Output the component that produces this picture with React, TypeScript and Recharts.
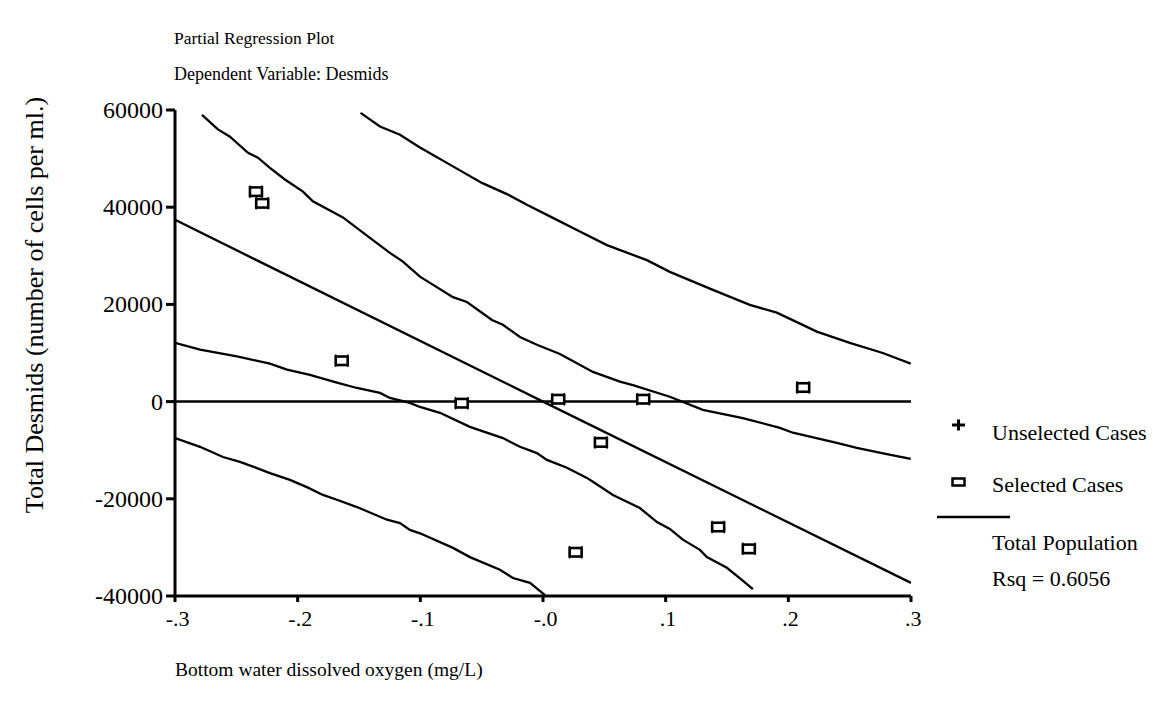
import React from 'react';
import { ComposedChart, Line, Scatter, XAxis, YAxis, ReferenceLine } from 'recharts';

const FONT = "'Liberation Serif', 'Times New Roman', serif";

const xTicks = [-0.3, -0.2, -0.1, 0, 0.1, 0.2, 0.3];
const xTickLabels = ['-.3', '-.2', '-.1', '-.0', '.1', '.2', '.3'];
const yTicks = [-40000, -20000, 0, 20000, 40000, 60000];
const yTickLabels = ['-40000', '-20000', '0', '20000', '40000', '60000'];

// Selected cases (scatter points)
const selectedX = [-0.234, -0.2289, -0.1641, -0.0663, 0.0124, 0.0817, 0.0472, 0.0266, 0.2121, 0.1428, 0.1678];
const selectedY = [43200, 40800, 8400, -330, 490, 490, -8400, -31000, 2900, -25800, -30300];

// Fitted regression line
const regressionLine: [number, number][] = [[-0.3, 37400], [0, 0], [0.3, -37300]];

// Outer upper band
const outerUpper: [number, number][] = [
  [-0.1487, 59400], [-0.1329, 56600], [-0.1166, 54900], [-0.1003, 52300], [-0.0734, 48400],
  [-0.0498, 45000], [-0.0294, 42700], [-0.0131, 40500], [0.0081, 37800], [0.0276, 35300],
  [0.0521, 32200], [0.0847, 29100], [0.1034, 26700], [0.1385, 23000], [0.1686, 19900],
  [0.1906, 18300], [0.2232, 14400], [0.2501, 12100], [0.277, 10000], [0.2998, 7800],
];

// Inner upper band
const innerUpper: [number, number][] = [
  [-0.278, 59000], [-0.265, 56000], [-0.2552, 54500], [-0.2405, 51200], [-0.2324, 50200],
  [-0.2226, 48100], [-0.2104, 45700], [-0.1957, 43200], [-0.1876, 41200], [-0.1631, 37900],
  [-0.1411, 33700], [-0.1248, 30600], [-0.1142, 28800], [-0.1003, 25700], [-0.0734, 21500],
  [-0.062, 20500], [-0.0416, 16800], [-0.0327, 15800], [-0.0188, 13300], [-0.005, 11700],
  [0.0138, 9800], [0.0407, 6100], [0.0627, 4100], [0.0733, 3400], [0.1034, 1000],
  [0.1303, -1700], [0.1629, -3400], [0.1931, -5400], [0.2037, -6400], [0.2395, -8500],
  [0.2558, -9500], [0.2803, -10800], [0.2998, -11800],
];

// Inner lower band
const innerLower: [number, number][] = [
  [-0.3, 12100], [-0.2796, 10700], [-0.2495, 9300], [-0.2226, 7800], [-0.2087, 6600],
  [-0.19, 5500], [-0.168, 3900], [-0.1517, 2800], [-0.1329, 1800], [-0.1248, 760],
  [-0.1085, -270], [-0.1003, -1100], [-0.084, -2300], [-0.0596, -5200], [-0.0327, -7500],
  [-0.0188, -9300], [-0.005, -10600], [0.0032, -12000], [0.0195, -13600], [0.0358, -15700],
  [0.0407, -16500], [0.057, -19200], [0.0684, -20600], [0.079, -21900], [0.0929, -24800],
  [0.1034, -26200], [0.114, -28400], [0.1279, -30500], [0.1336, -32000], [0.1499, -34200],
  [0.1621, -36700], [0.1711, -38600],
];

// Outer lower band
const outerLower: [number, number][] = [
  [-0.3, -7500], [-0.2796, -9300], [-0.2609, -11400], [-0.247, -12400], [-0.2226, -14700],
  [-0.2063, -16100], [-0.1925, -17600], [-0.1794, -19200], [-0.168, -20200], [-0.1517, -21700],
  [-0.1272, -24300], [-0.1166, -25000], [-0.1085, -26400], [-0.1003, -27100], [-0.0734, -30100],
  [-0.0596, -32000], [-0.0351, -34600], [-0.0245, -36300], [-0.0106, -37300], [0.0016, -39800],
];

const toRows = (pts: [number, number][]) => pts.map(([x, y]) => ({ x, y }));
const scatterRows = selectedX.map((x, i) => ({ x, y: selectedY[i] }));

const SquareMarker = (props: any) => {
  const { cx, cy } = props;
  if (cx == null || cy == null) return null;
  const w = 12;
  const h = 8.5;
  return (
    <g>
      <rect x={cx - w / 2} y={cy - h / 2} width={w} height={h} fill="#fff" stroke="#000" strokeWidth={2.6} />
      <line x1={cx - w / 2} y1={cy - h / 2 - 2} x2={cx - w / 2} y2={cy + h / 2 + 2} stroke="#000" strokeWidth={1.4} />
      <line x1={cx + w / 2} y1={cy - h / 2 - 2} x2={cx + w / 2} y2={cy + h / 2 + 2} stroke="#000" strokeWidth={1.4} />
    </g>
  );
};

const YTick = (props: any) => {
  const { x, y, payload } = props;
  const i = yTicks.indexOf(payload.value);
  const label = i >= 0 ? yTickLabels[i] : String(payload.value);
  return (
    <text x={x - 3} y={y + 8} textAnchor="end" fontFamily={FONT} fontSize={24} fill="#000">
      {label}
    </text>
  );
};

const XTick = (props: any) => {
  const { x, y, payload } = props;
  const i = xTicks.findIndex((t) => Math.abs(t - payload.value) < 1e-9);
  const label = i >= 0 ? xTickLabels[i] : String(payload.value);
  const neg = label.startsWith('-');
  return (
    <text x={x - (neg ? 9.3 : 6)} y={y + 24} textAnchor="start" fontFamily={FONT} fontSize={22} fill="#000">
      {label}
    </text>
  );
};

export default function App() {
  const lineProps = {
    dataKey: 'y',
    stroke: '#000',
    strokeWidth: 2.3,
    dot: false,
    activeDot: false,
    isAnimationActive: false,
    type: 'linear' as const,
  };
  return (
    <div style={{ position: 'absolute', left: 0, top: 0, width: 1156, height: 704, background: '#fff' }}>
      <ComposedChart
        width={1156}
        height={704}
        margin={{ top: 110, right: 245, bottom: 68, left: 115 }}
      >
        <XAxis
          type="number"
          dataKey="x"
          domain={[-0.3, 0.3]}
          ticks={xTicks}
          allowDataOverflow
          height={40}
          axisLine={{ stroke: '#000', strokeWidth: 3 }}
          tickLine={{ stroke: '#000', strokeWidth: 3 }}
          tickSize={6}
          tickMargin={0}
          tick={<XTick />}
          interval={0}
        />
        <YAxis
          type="number"
          dataKey="y"
          domain={[-40000, 60000]}
          ticks={yTicks}
          allowDataOverflow
          width={60}
          axisLine={{ stroke: '#000', strokeWidth: 3 }}
          tickLine={{ stroke: '#000', strokeWidth: 3 }}
          tickSize={9}
          tickMargin={0}
          tick={<YTick />}
          interval={0}
        />
        <ReferenceLine y={0} stroke="#000" strokeWidth={2.5} ifOverflow="visible" />
        <Line data={toRows(outerUpper)} {...lineProps} name="outerUpper" />
        <Line data={toRows(innerUpper)} {...lineProps} name="innerUpper" />
        <Line data={toRows(regressionLine)} {...lineProps} name="regression" />
        <Line data={toRows(innerLower)} {...lineProps} name="innerLower" />
        <Line data={toRows(outerLower)} {...lineProps} name="outerLower" />
        <Scatter data={scatterRows} dataKey="y" shape={<SquareMarker />} isAnimationActive={false} />
      </ComposedChart>
      <svg
        width={1156}
        height={704}
        style={{ position: 'absolute', left: 0, top: 0, pointerEvents: 'none' }}
        fontFamily={FONT}
        fontSize={22}
      >
        <text x={174} y={44} fill="#000" fontSize={17.5}>Partial Regression Plot</text>
        <text x={174} y={80} fill="#000" fontSize={18}>Dependent Variable: Desmids</text>
        <text x={43} y={305} fill="#000" fontSize={26} textAnchor="middle" transform="rotate(-90, 43, 305)">
          Total Desmids (number of cells per ml.)
        </text>
        <text x={175} y={676} fill="#000" fontSize={19.5}>Bottom water dissolved oxygen (mg/L)</text>
        {/* Legend */}
        <line x1={952} y1={425} x2={965} y2={425} stroke="#000" strokeWidth={3} />
        <line x1={958.5} y1={419.5} x2={958.5} y2={430.5} stroke="#000" strokeWidth={3} />
        <text x={992} y={440} fill="#000">Unselected Cases</text>
        <rect x={952.5} y={478.5} width={12} height={7} fill="#fff" stroke="#000" strokeWidth={2.5} />
        <text x={992} y={492} fill="#000">Selected Cases</text>
        <line x1={937} y1={517} x2={1010} y2={517} stroke="#000" strokeWidth={2.7} />
        <text x={992} y={550} fill="#000">Total Population</text>
        <text x={992} y={586} fill="#000">Rsq = 0.6056</text>
      </svg>
    </div>
  );
}
